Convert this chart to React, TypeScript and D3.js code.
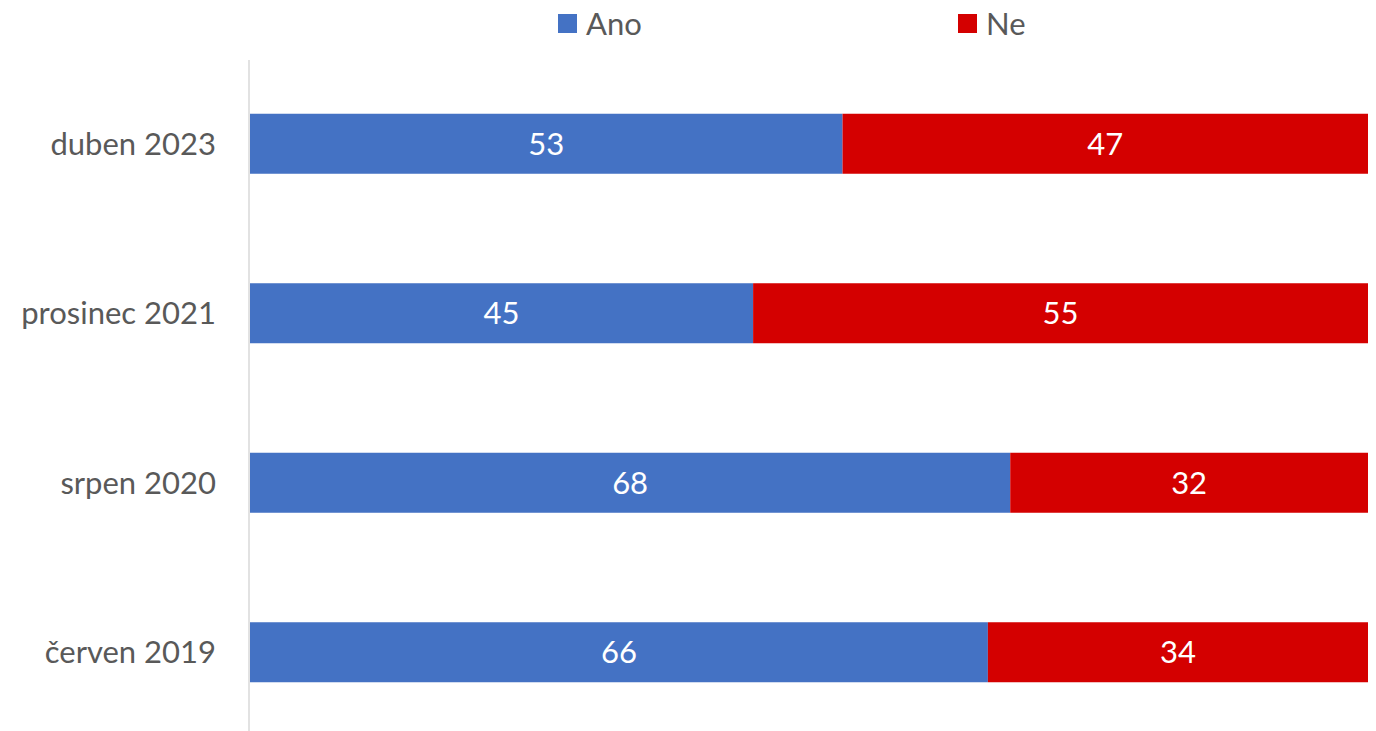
import * as d3 from "d3";
import { useEffect, useRef } from "react";

const categories = ["duben 2023", "prosinec 2021", "srpen 2020", "červen 2019"];
const anoValues = [53, 45, 68, 66];
const neValues = [47, 55, 32, 34];
const seriesNames = ["Ano", "Ne"];
const seriesColors = ["#4472c4", "#d40000"];

const App: React.FC = () => {
  const ref = useRef<SVGSVGElement | null>(null);

  useEffect(() => {
    const svg = d3.select(ref.current);
    svg.selectAll("*").remove();

    const width = 1376,
      height = 731;
    const font = "Lato, 'Open Sans', sans-serif";
    const fontSize = 31;

    const xScale = d3.scaleLinear().domain([0, 100]).range([250, 1368]);
    const yScale = d3
      .scaleBand()
      .domain(categories)
      .range([59, 737])
      .paddingInner(0.646)
      .paddingOuter(0.323);

    const rows = categories.map((c, i) => ({
      label: c,
      segs: [
        { start: 0, value: anoValues[i], color: seriesColors[0] },
        { start: anoValues[i], value: neValues[i], color: seriesColors[1] },
      ],
    }));

    // bars
    const group = svg
      .selectAll("g.row")
      .data(rows)
      .enter()
      .append("g")
      .attr("class", "row");

    group
      .selectAll("rect")
      .data((d) => d.segs.map((s) => ({ ...s, label: d.label })))
      .enter()
      .append("rect")
      .attr("x", (s) => xScale(s.start))
      .attr("y", (s) => yScale(s.label) ?? 0)
      .attr("width", (s) => xScale(s.start + s.value) - xScale(s.start))
      .attr("height", yScale.bandwidth())
      .attr("fill", (s) => s.color);

    group
      .selectAll("text.val")
      .data((d) => d.segs.map((s) => ({ ...s, label: d.label })))
      .enter()
      .append("text")
      .attr("class", "val")
      .attr("x", (s) => xScale(s.start + s.value / 2))
      .attr("y", (s) => (yScale(s.label) ?? 0) + yScale.bandwidth() / 2)
      .attr("dy", "0.36em")
      .attr("text-anchor", "middle")
      .attr("fill", "#fff")
      .attr("font-family", font)
      .attr("font-size", fontSize)
      .text((s) => s.value);

    // axis line
    svg
      .append("line")
      .attr("x1", 249)
      .attr("x2", 249)
      .attr("y1", 60)
      .attr("y2", height)
      .attr("stroke", "#d9d9d9")
      .attr("stroke-width", 1.5);

    // category labels
    svg
      .selectAll("text.cat")
      .data(categories)
      .enter()
      .append("text")
      .attr("class", "cat")
      .attr("x", 216)
      .attr("y", (d) => (yScale(d) ?? 0) + yScale.bandwidth() / 2)
      .attr("dy", "0.36em")
      .attr("text-anchor", "end")
      .attr("fill", "#595959")
      .attr("font-family", font)
      .attr("font-size", fontSize)
      .text((d) => d);

    // legend
    const legendX = [558, 958];
    const legend = svg
      .selectAll("g.legend")
      .data(seriesNames)
      .enter()
      .append("g")
      .attr("class", "legend")
      .attr("transform", (_, i) => `translate(${legendX[i]}, 14)`);
    legend
      .append("rect")
      .attr("width", 19)
      .attr("height", 19)
      .attr("fill", (_, i) => seriesColors[i]);
    legend
      .append("text")
      .attr("x", 28)
      .attr("y", 9.5)
      .attr("dy", "0.36em")
      .attr("fill", "#595959")
      .attr("font-family", font)
      .attr("font-size", fontSize)
      .text((d) => d);

    svg.attr("width", width).attr("height", height);
  }, []);

  return (
    <svg
      ref={ref}
      width={1376}
      height={731}
      style={{ position: "absolute", left: 0, top: 0, background: "#fff" }}
    ></svg>
  );
};

export default App;
